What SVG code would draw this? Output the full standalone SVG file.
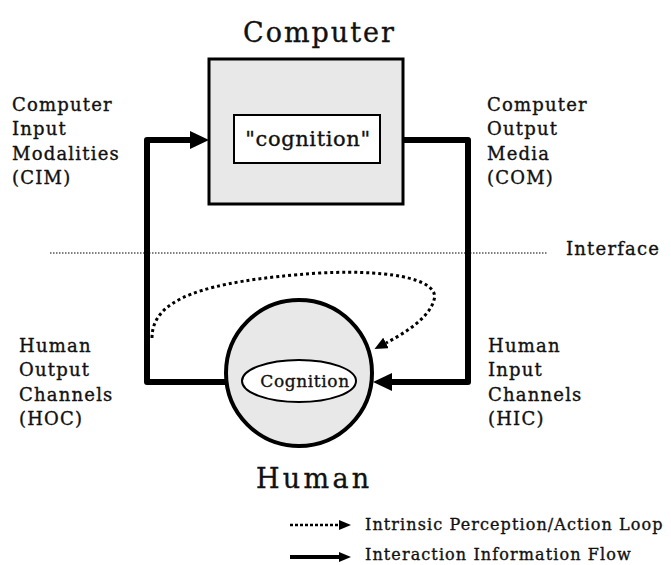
<svg xmlns="http://www.w3.org/2000/svg" width="671" height="565" viewBox="0 0 671 565">
<defs>
<style>
text{font-family:"DejaVu Serif","Liberation Serif",serif;fill:#111;stroke:#111;stroke-width:0.35}
.lbl{font-size:18px;letter-spacing:1.2px}
.big{font-size:27px;letter-spacing:2px}
.leg{font-size:16px;letter-spacing:1.1px}
.flow{fill:none;stroke:#000;stroke-width:6;stroke-linejoin:round}
.loop{fill:none;stroke:#000;stroke-width:3;stroke-dasharray:3 3}
</style>
<marker id="hd" markerUnits="userSpaceOnUse" markerWidth="20" markerHeight="18" refX="0" refY="9" orient="auto">
<path d="M0,0 L19,9 L0,18 z" fill="#000"/>
</marker>
<marker id="hdd" markerUnits="userSpaceOnUse" markerWidth="14" markerHeight="12" refX="0" refY="6" orient="auto">
<path d="M0,0 L13,6 L0,12 z" fill="#000"/>
</marker>
<marker id="hl" markerUnits="userSpaceOnUse" markerWidth="14" markerHeight="12" refX="0" refY="5" orient="auto">
<path d="M0,0 L12,5 L0,10 z" fill="#000"/>
</marker>
</defs>
<rect width="671" height="565" fill="#fff"/>

<g id="interface">
<line x1="50" y1="253" x2="548" y2="253" stroke="#000" stroke-width="1.2" stroke-dasharray="1.5 1.5"/>
<text class="lbl" x="566" y="255">Interface</text>
</g>

<g id="connectors">
<path class="flow" d="M227,382 L147,382 L147,140 L190,140" marker-end="url(#hd)"/>
<path class="flow" d="M403,140 L468,140 L468,382 L392,382" marker-end="url(#hd)"/>
<path class="loop" d="M152,338 C152,300 200,281 320,273 C400,269 440,282 434,300 C429,318 405,333 386,343" marker-end="url(#hdd)"/>
</g>

<g id="computer">
<text class="big" x="243" y="42">Computer</text>
<rect x="209" y="59" width="194" height="145" fill="#e8e8e8" stroke="#000" stroke-width="3"/>
<rect x="234" y="115" width="146" height="48" fill="#fff" stroke="#000" stroke-width="2"/>
<text x="308" y="146" text-anchor="middle" style="font-size:21px;letter-spacing:0.6px">"cognition"</text>
</g>

<g id="human">
<circle cx="299" cy="373" r="73" fill="#e8e8e8" stroke="#000" stroke-width="4"/>
<ellipse cx="299" cy="381" rx="57" ry="21" fill="#fff" stroke="#000" stroke-width="2"/>
<text x="305" y="387" text-anchor="middle" style="font-size:17px;letter-spacing:0.6px">Cognition</text>
<text class="big" x="256" y="488" style="letter-spacing:3.3px">Human</text>
</g>

<g id="cim">
<text class="lbl" x="12" y="111">Computer</text>
<text class="lbl" x="12" y="135">Input</text>
<text class="lbl" x="12" y="160">Modalities</text>
<text class="lbl" x="12" y="184">(CIM)</text>
</g>

<g id="com">
<text class="lbl" x="487" y="111">Computer</text>
<text class="lbl" x="487" y="135">Output</text>
<text class="lbl" x="487" y="160">Media</text>
<text class="lbl" x="487" y="184">(COM)</text>
</g>

<g id="hoc">
<text class="lbl" x="19" y="352">Human</text>
<text class="lbl" x="19" y="376">Output</text>
<text class="lbl" x="19" y="401">Channels</text>
<text class="lbl" x="19" y="425">(HOC)</text>
</g>

<g id="hic">
<text class="lbl" x="488" y="352">Human</text>
<text class="lbl" x="488" y="376">Input</text>
<text class="lbl" x="488" y="401">Channels</text>
<text class="lbl" x="488" y="425">(HIC)</text>
</g>

<g id="legend">
<line x1="290" y1="525" x2="339" y2="525" stroke="#000" stroke-width="2.5" stroke-dasharray="3 2" marker-end="url(#hl)"/>
<text class="leg" x="365" y="530">Intrinsic Perception/Action Loop</text>
<line x1="290" y1="557" x2="339" y2="557" stroke="#000" stroke-width="4" marker-end="url(#hl)"/>
<text class="leg" x="365" y="560">Interaction Information Flow</text>
</g>
</svg>
